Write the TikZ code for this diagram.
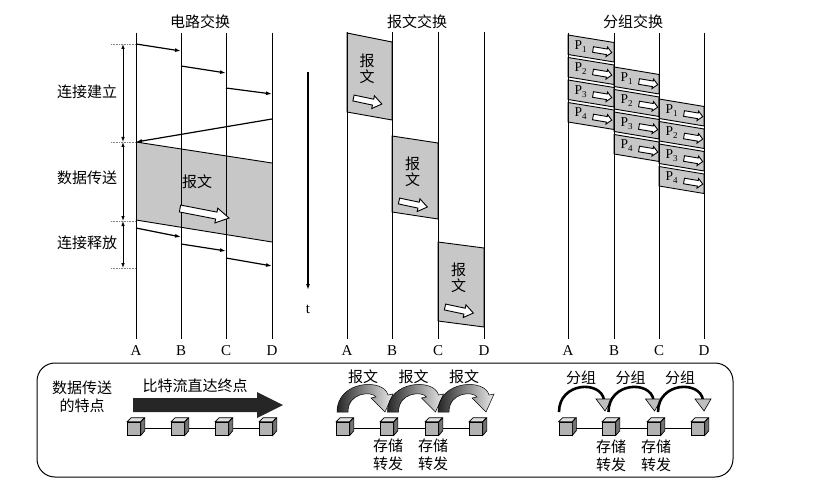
\documentclass[tikz,border=0pt]{standalone}
\usepackage{fontspec}
\setmainfont{Liberation Serif}
\newfontfamily\cjk{Noto Sans CJK SC}
\usetikzlibrary{arrows.meta}
\tikzset{
  pics/harrow/.style n args={4}{code={
    \draw[fill=white,line width=0.9pt,line join=miter]
      (0,-#2) -- ({#1-#4},-#2) -- ({#1-#4},-#3) -- (#1,0) -- ({#1-#4},#3) -- ({#1-#4},#2) -- (0,#2) -- cycle;}},
}
\begin{document}
\begin{tikzpicture}[x=1pt,y=-1pt,
  vline/.style={line width=1pt},
  cn/.style={font=\cjk\fontsize{15}{18.5}\selectfont, inner sep=0},
  lat/.style={font=\fontsize{15}{17}\selectfont, inner sep=0},
  plab/.style={font=\fontsize{13.5}{13.5}\selectfont, inner sep=0},
  sig/.style={line width=1.2pt, -{Latex[length=6pt,width=4pt]}},
  tickl/.style={black!50, densely dotted, line width=0.6pt},
  spanarr/.style={line width=0.8pt, {Latex[length=5pt,width=3.5pt]}-{Latex[length=5pt,width=3.5pt]}},
  blk/.style={fill=black!22, draw=black, line width=0.9pt},
  edge/.style={line width=0.9pt},
  cubenode/.style={draw, fill=black!30, minimum size=13pt, inner sep=0, line width=0.7pt},
  cubetop/.style={fill=black!12, draw=black, line width=0.7pt},
  cuberight/.style={fill=black!55, draw=black, line width=0.7pt},
  link/.style={line width=0.8pt}
]
\useasboundingbox (0,0) rectangle (829,489);

% ---------------- titles
\node[cn] (t1) at (200,22) {电路交换};
\node[cn] (t2) at (417,22) {报文交换};
\node[cn] (t3) at (633,22) {分组交换};

% ---------------- circuit switching
\fill[black!22] (136,142) -- (272,163) -- (272,242) -- (136,220) -- cycle;
\draw[edge] (136,142) -- (272,163);
\draw[edge] (136,220) -- (272,242);
\foreach \n/\x in {A/136,B/181,C/226,D/272}{
  \coordinate (c\n1) at (\x,33); \coordinate (c\n2) at (\x,339);
  \draw[vline] (c\n1) -- (c\n2);
  \node[lat] (cl\n) at (\x,351) {\n};
}
\foreach \i/\xa/\ya/\xb/\yb in {1/136/44/181/51, 2/181/66/226/73, 3/226/88/272/94,
   4/272/119/136/142, 5/136/228/181/237, 6/181/244/226/251, 7/226/258/272/266}{
  \coordinate (ca\i) at (\xa,\ya); \coordinate (cb\i) at (\xb,\yb);
  \draw[sig] (ca\i) -- (cb\i);
}
\foreach \i/\y in {1/44,2/142,3/221,4/268}{
  \coordinate (tk\i) at (111,\y); \coordinate (tm\i) at (136,\y); \coordinate (tv\i) at (123,\y);
  \draw[tickl] (tk\i) -- (tm\i);
}
\draw[spanarr] (tv1) -- (tv2);
\draw[spanarr] (tv2) -- (tv3);
\draw[spanarr] (tv3) -- (tv4);
\node[cn] (ph1) at (87,92) {连接建立};
\node[cn] (ph2) at (87,178) {数据传送};
\node[cn] (ph3) at (87,243) {连接释放};
\node[cn] (cmsg) at (197,182) {报文};
\pic[rotate=-11] at (180,208.5) {harrow={50}{3.5}{7.5}{13}};

% time axis
\coordinate (ta) at (308,72); \coordinate (tb) at (308,290);
\draw[line width=1.5pt, -{Latex[length=6pt,width=4pt]}] (ta) -- (tb);
\node[lat] (tl) at (308,309) {t};

% ---------------- message switching
\foreach \i/\xa/\xb/\ya/\yb/\yc/\yd in {1/347/392/33/42/120/112, 2/392/438/136/143/219/212, 3/438/484/242/248/327/321}{
  \filldraw[blk] (\xa,\ya) -- (\xb,\yb) -- (\xb,\yc) -- (\xa,\yd) -- cycle;
  \node[cn] (mb\i a) at ({(\xa+\xb)/2-2.5},{\ya+28}) {报};
  \node[cn] (mb\i b) at ({(\xa+\xb)/2-2.5},{\ya+44}) {文};
  \pic[rotate=-12] at ({(\xa+\xb)/2-16},{\ya+65}) {harrow={29}{3}{6.5}{9}};
}
\foreach \n/\x in {A/347,B/392,C/438,D/484}{
  \coordinate (m\n1) at (\x,32); \coordinate (m\n2) at (\x,339);
  \draw[vline] (m\n1) -- (m\n2);
  \node[lat] (ml\n) at (\x,351) {\n};
}

% ---------------- packet switching
\foreach \k/\xa/\xb/\yo in {0/568/614/35, 1/614/659/67, 2/659/704/99}{
  \foreach \i in {1,...,4}{
    \pgfmathsetmacro\t{\yo+22.5*(\i-1)}
    \filldraw[blk] (\xa,\t) -- (\xb,{\t+7.5}) -- (\xb,{\t+27}) -- (\xa,{\t+19.5}) -- cycle;
    \node[plab] (pk\k\i) at ({\xa+12.5},{\t+11.5}) {P\lower3pt\hbox{\fontsize{9}{9}\selectfont\i}};
    \pic[rotate=-9.5] at ({\xa+25},{\t+14.5}) {harrow={19}{2.8}{4.8}{5}};
  }
}
\foreach \n/\x in {A/568,B/614,C/659,D/704}{
  \coordinate (p\n1) at (\x,33); \coordinate (p\n2) at (\x,339);
  \draw[vline] (p\n1) -- (p\n2);
  \node[lat] (pl\n) at (\x,351) {\n};
}

% ---------------- bottom panel
\draw[line width=1pt, rounded corners=18pt] (37,363) rectangle (733,477);
\node[cn, align=center] (feat) at (82,397) {数据传送\\的特点};
\node[cn] (bits) at (195,386) {比特流直达终点};
\fill[black!85] (133,398) -- (257,398) -- (257,392) -- (283,405) -- (257,418) -- (257,412) -- (133,412) -- cycle;

% cubes
\foreach \g/\xs in {c/{134,178,222,266}, m/{343,387,432,476}, p/{565.5,609,654,698}}{
  \foreach \x [count=\j] in \xs{
    \node[cubenode] (\g q\j) at (\x,428.5) {};
  }
}
\foreach \g in {c,m,p}{
  \draw[link] (\g q1) -- (\g q2) -- (\g q3) -- (\g q4);
  \foreach \j in {1,...,4}{
    \filldraw[cubetop] (\g q\j.north west) -- ++(4,-4) -- ++(13,0) -- (\g q\j.north east) -- cycle;
    \filldraw[cuberight] (\g q\j.north east) -- ++(4,-4) -- ++(0,13) -- (\g q\j.south east) -- cycle;
  }
}

% message store-and-forward arrows
\foreach \i in {0,1,2}{
  \pgfmathsetmacro\a{337+50.5*\i}
  \node[cn] (mlab\i) at ({\a+26},377) {报文};
  \begin{scope}[shift={(\a+13,0)}]
    \shadedraw[left color=black!85, right color=black!8, draw=black, line width=0.5pt]
      (-13,412) .. controls (-13,380) and (34,378) .. (38,395) -- (43,394) -- (35,412)
      -- (21,398) -- (26,397) .. controls (22,391) and (-2,392) .. (-2,412) -- cycle;
  \end{scope}
}
\node[cn, align=center] (sf1) at (388,455) {存储\\转发};
\node[cn, align=center] (sf2) at (433,455) {存储\\转发};

% packet store-and-forward arrows
\foreach \i in {0,1,2}{
  \pgfmathsetmacro\p{558+49.5*\i}
  \node[cn] (plab\i) at ({\p+23},378) {分组};
  \begin{scope}[shift={(\p,0)}]
    \draw[line width=2.6pt] (1,412) .. controls (1,382) and (43,380) .. (46,400);
    \filldraw[fill=black!25, draw=black, line width=0.6pt] (38,399) -- (54,399) -- (47,411) -- cycle;
  \end{scope}
}
\node[cn, align=center] (sf3) at (611,456) {存储\\转发};
\node[cn, align=center] (sf4) at (656,456) {存储\\转发};
\end{tikzpicture}
\end{document}
